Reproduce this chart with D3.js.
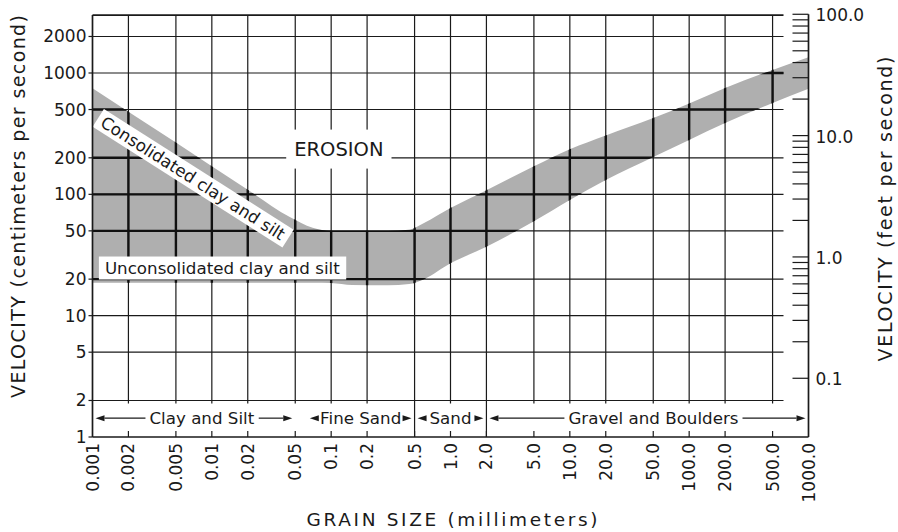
<!DOCTYPE html>
<html><head><meta charset="utf-8">
<script src="https://cdn.jsdelivr.net/npm/d3@7"></script>
<style>html,body{margin:0;background:#fff}svg{display:block}</style>
</head><body><svg id="c" width="898" height="532"></svg>
<script>
// ---- data (grain size in mm, velocity in cm/s) ----
const xTickValues = [0.001,0.002,0.005,0.01,0.02,0.05,0.1,0.2,0.5,1,2,5,10,20,50,100,200,500,1000];
const xTickLabels = ["0.001","0.002","0.005","0.01","0.02","0.05","0.1","0.2","0.5","1.0","2.0","5.0","10.0","20.0","50.0","100.0","200.0","500.0","1000.0"];
const xFullLines = [0.5, 2];
const yTickValues = [1,2,5,10,20,50,100,200,500,1000,2000];
const yTickLabels = ["1","2","5","10","20","50","100","200","500","1000","2000"];
const ftMajorTicks = [0.1,1,10,100];
const ftMajorLabels = ["0.1","1.0","10.0","100.0"];
const ftMinorMultiples = [2,3,4,5,6,7,8,9];
const cmPerFoot = 30.48;

const bandSize  = [0.001,0.005,0.02,0.045,0.07,0.1,0.15,0.3,0.45,0.6,1,2,5,10,20,50,100,200,500,1000];
const bandUpper = [750,267,109,65,53,50,50,50,51,58,77,108,170,235,305,425,560,752,1060,1350];
const bandLower = [18.7,18.7,18.7,18.7,18.7,18.6,17.9,17.8,18.2,20,27,37,60,90,131,203,281,387,567,740];

const rangeNames = ["Clay and Silt","Fine Sand","Sand","Gravel and Boulders"];
const rangeFrom  = [0.001,0.0625,0.5,2];
const rangeTo    = [0.05,0.5,2,1000];

const annotations = [
  {text:"EROSION", size:0.116, vel:236},
  {text:"Unconsolidated clay and silt", size:0.00127, vel:24.7},
  {text:"Consolidated clay and silt", size:0.00695, vel:136}
];

// ---- scales ----
const svg = d3.select("#c");
svg.append("rect").attr("width",898).attr("height",532).attr("fill","#fff");
const x = d3.scaleLog().domain([0.001,1000]).range([92.5,808.5]);
const y = d3.scaleLog().domain([1,1000]).range([437,73]);
const yTopVal = 3000;
const yFt = v => y(v*cmPerFoot);
const gridRight = x(1000) - 25;
const ink = "#1a1a1a";
const font = "'DejaVu Sans', sans-serif";

// ---- band ----
const idx = d3.range(bandSize.length);
const area = d3.area()
  .x(i => x(bandSize[i]))
  .y0(i => y(bandLower[i]))
  .y1(i => y(bandUpper[i]))
  .curve(d3.curveMonotoneX);
const bandD = area(idx);
svg.append("defs").append("clipPath").attr("id","bandClip").append("path").attr("d", bandD);
svg.append("path").attr("d", bandD).attr("fill","#afafaf");

// ---- grid ----
function drawGrid(g, sw, col){
  g.selectAll(".h").data(yTickValues.slice(1)).join("line")
    .attr("x1", x(0.001)).attr("x2", gridRight)
    .attr("y1", d=>y(d)).attr("y2", d=>y(d))
    .attr("stroke", col).attr("stroke-width", sw);
  g.selectAll(".v").data(xTickValues.slice(1,-1)).join("line")
    .attr("x1", d=>x(d)).attr("x2", d=>x(d))
    .attr("y1", y(yTopVal))
    .attr("y2", d => xFullLines.includes(d) ? y(1) : y(2)+3)
    .attr("stroke", col).attr("stroke-width", sw);
}
drawGrid(svg.append("g"), 1.2, ink);
drawGrid(svg.append("g").attr("clip-path","url(#bandClip)"), 2.4, "#111");

// bottom inner ticks
svg.append("g").selectAll("line").data(xTickValues.slice(1,-1)).join("line")
  .attr("x1", d=>x(d)).attr("x2", d=>x(d))
  .attr("y1", y(1)).attr("y2", y(1)-6)
  .attr("stroke", ink).attr("stroke-width", 1.2);

// ---- annotations with white boxes ----
function boxedText(a, fs, pad, angle){
  const g = svg.append("g").attr("transform", `translate(${x(a.size)},${y(a.vel)}) rotate(${angle})`);
  const r = g.append("rect").attr("fill","#fff");
  const t = g.append("text").text(a.text)
    .attr("font-family", font).attr("font-size", fs).attr("fill", ink)
    .attr("dominant-baseline","central")
    .attr("text-anchor", a.anchor || "middle");
  const b = t.node().getBBox();
  r.attr("x", b.x - pad[0]).attr("y", b.y - pad[1])
   .attr("width", b.width + 2*pad[0]).attr("height", b.height + 2*pad[1]);
}
boxedText(annotations[0], 19.5, [8,8], 0);
annotations[1].anchor = "start";
boxedText(annotations[1], 16.7, [6,1.5], 0);
boxedText(annotations[2], 16.7, [5,0.5], 32.5);

// ---- size range arrows ----
const rowY = y(1.43);
rangeNames.forEach((name, i) => {
  const xl = x(rangeFrom[i]) + 3, xr = x(rangeTo[i]) - 3;
  const g = svg.append("g");
  const t = g.append("text").text(name)
    .attr("font-family", font).attr("font-size", 16.7).attr("fill", ink)
    .attr("x", (xl+xr)/2 + (i===0?8:(i===3?6:0))).attr("y", rowY)
    .attr("text-anchor","middle").attr("dominant-baseline","central");
  const bb = t.node().getBBox();
  const ah = 9, aw = 3;
  const l1 = xl + ah, l2 = bb.x - 4, r1 = bb.x + bb.width + 4, r2 = xr - ah;
  if (l2 > l1) g.append("line").attr("x1", l1).attr("x2", l2).attr("y1", rowY).attr("y2", rowY).attr("stroke", ink).attr("stroke-width", 1.2);
  if (r2 > r1) g.append("line").attr("x1", r1).attr("x2", r2).attr("y1", rowY).attr("y2", rowY).attr("stroke", ink).attr("stroke-width", 1.2);
  g.append("path").attr("d", `M${xl},${rowY}L${xl+ah},${rowY-aw}L${xl+ah},${rowY+aw}Z`).attr("fill", ink);
  g.append("path").attr("d", `M${xr},${rowY}L${xr-ah},${rowY-aw}L${xr-ah},${rowY+aw}Z`).attr("fill", ink);
});

// ---- frame ----
const fr = svg.append("g").attr("stroke", ink).attr("stroke-width", 1.7);
fr.append("line").attr("x1", x(0.001)).attr("x2", gridRight).attr("y1", y(yTopVal)).attr("y2", y(yTopVal));
fr.append("line").attr("x1", x(0.001)).attr("x2", x(0.001)).attr("y1", y(yTopVal)).attr("y2", y(1));
fr.append("line").attr("x1", x(0.001)).attr("x2", x(1000)).attr("y1", y(1)).attr("y2", y(1));
fr.append("line").attr("x1", x(1000)).attr("x2", x(1000)).attr("y1", yFt(100)).attr("y2", y(1));

// ---- left axis ----
const la = svg.append("g");
la.selectAll("line").data(yTickValues).join("line")
  .attr("x1", x(0.001)-4).attr("x2", x(0.001)).attr("y1", d=>y(d)).attr("y2", d=>y(d))
  .attr("stroke", ink).attr("stroke-width", 1.2);
la.selectAll("text").data(yTickValues).join("text")
  .attr("x", x(0.001)-6).attr("y", d=>y(d))
  .attr("text-anchor","end").attr("dominant-baseline","central")
  .attr("font-family", font).attr("font-size", 17).attr("fill", ink)
  .text((d,i)=>yTickLabels[i]);

// ---- bottom axis labels ----
svg.append("g").selectAll("text").data(xTickValues).join("text")
  .attr("transform", d=>`translate(${x(d)},${y(1)+6}) rotate(-90)`)
  .attr("text-anchor","end").attr("dominant-baseline","central")
  .attr("font-family", font).attr("font-size", 17).attr("fill", ink)
  .text((d,i)=>xTickLabels[i]);

// ---- right axis (feet per second) ----
const ra = svg.append("g");
const ftMinor = [];
ftMajorTicks.slice(0,-1).forEach(m => ftMinorMultiples.forEach(k => ftMinor.push(m*k)));
ra.selectAll(".mj").data(ftMajorTicks.concat(ftMinor)).join("line")
  .attr("x1", x(1000)-16).attr("x2", x(1000))
  .attr("y1", d=>yFt(d)).attr("y2", d=>yFt(d))
  .attr("stroke", ink).attr("stroke-width", 1.2);
ra.selectAll("text").data(ftMajorTicks).join("text")
  .attr("x", x(1000)+7).attr("y", d=>yFt(d)+1)
  .attr("dominant-baseline","central")
  .attr("font-family", font).attr("font-size", 17).attr("fill", ink)
  .text((d,i)=>ftMajorLabels[i]);

// ---- axis titles ----
svg.append("text").text("VELOCITY (centimeters per second)")
  .attr("transform","translate(25,206.5) rotate(-90)")
  .attr("text-anchor","middle").attr("font-family", font).attr("font-size", 19).attr("fill", ink)
  .attr("textLength", 383).attr("lengthAdjust","spacing");
svg.append("text").text("VELOCITY (feet per second)")
  .attr("transform","translate(892,209) rotate(-90)")
  .attr("text-anchor","middle").attr("font-family", font).attr("font-size", 19).attr("fill", ink)
  .attr("textLength", 305).attr("lengthAdjust","spacing");
svg.append("text").text("GRAIN SIZE (millimeters)")
  .attr("x", 452).attr("y", 526)
  .attr("text-anchor","middle").attr("font-family", font).attr("font-size", 18.5).attr("fill", ink)
  .attr("textLength", 291).attr("lengthAdjust","spacing");
</script></body></html>
